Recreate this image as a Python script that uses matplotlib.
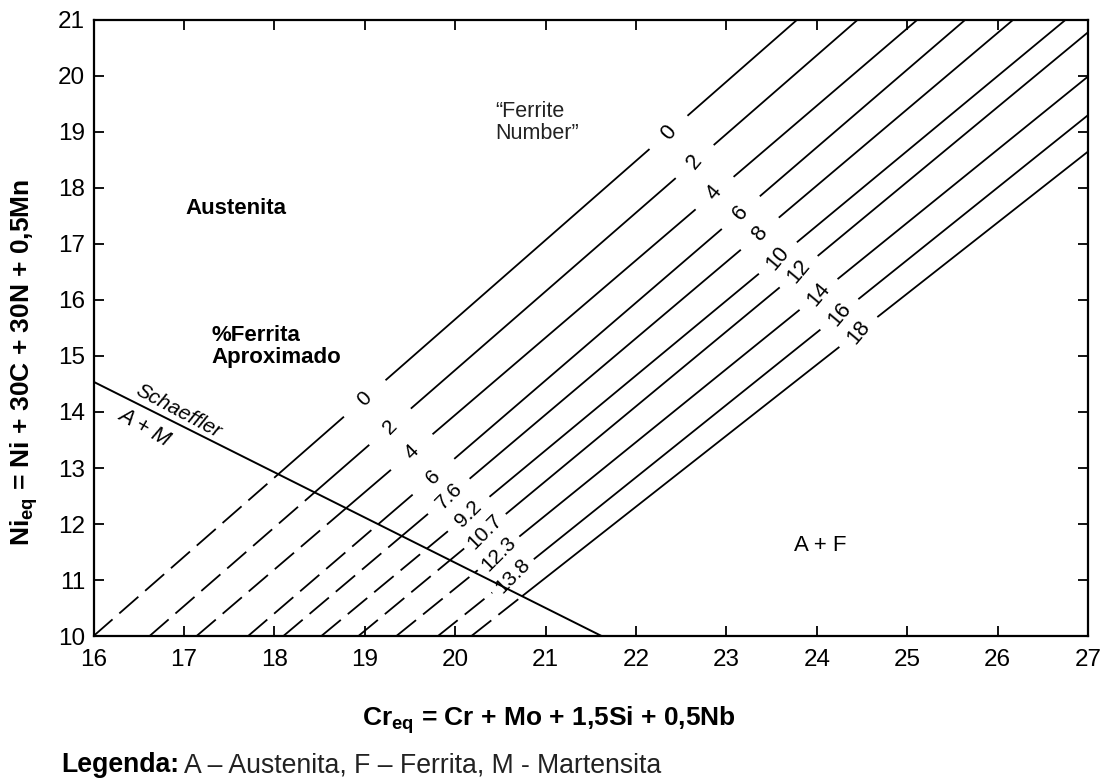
import matplotlib
matplotlib.use('Agg')
import numpy as np
import matplotlib.pyplot as plt

plt.rcParams['font.family'] = ['Liberation Sans', 'DejaVu Sans']
plt.rcParams['mathtext.fontset'] = 'custom'
plt.rcParams['mathtext.rm'] = 'Liberation Sans:bold'
plt.rcParams['mathtext.bf'] = 'Liberation Sans:bold'
plt.rcParams['mathtext.default'] = 'bf'

# iso-ferrite lines: foot on Ni_eq = 10, upper end on the frame
x_foot = [16.00, 16.62, 17.14, 17.71, 18.10, 18.52, 18.93, 19.35, 19.81, 20.18]
x_end = [23.78, 24.45, 25.11, 25.64, 26.17, 26.75, 27.0, 27.0, 27.0, 27.0]
y_end = [21.0, 21.0, 21.0, 21.0, 21.0, 21.0, 20.78, 19.99, 19.30, 18.65]

# "Ferrite Number" labels (upper) and % ferrite labels (lower)
fn_labels = ['0', '2', '4', '6', '8', '10', '12', '14', '16', '18']
fn_label_x = [22.36, 22.65, 22.87, 23.16, 23.37, 23.57, 23.80, 24.02, 24.25, 24.46]
pct_labels = ['0', '2', '4', '6', '7.6', '9.2', '10.7', '12.3', '13.8']
pct_label_x = [19.00, 19.28, 19.52, 19.76, 19.93, 20.15, 20.33, 20.48, 20.64]

# Schaeffler A+M boundary
sch_x = [16.0, 21.62]
sch_y = [14.54, 10.0]

fig = plt.figure(figsize=(11.12, 7.8), dpi=100)
ax = fig.add_axes([0.0841, 0.1846, 0.8943, 0.7898])
ax.set_xlim(16, 27)
ax.set_ylim(10, 21)

m_s = (sch_y[1] - sch_y[0]) / (sch_x[1] - sch_x[0])
ax.plot(sch_x, sch_y, color='k', lw=1.4)

lw = 1.3
dash = (0, (14, 5))
for i in range(len(x_foot)):
    xf = x_foot[i]
    s = (y_end[i] - 10.0) / (x_end[i] - xf)
    # crossing with the Schaeffler line -> dashed below, solid above
    xc = (sch_y[0] - m_s * sch_x[0] - 10.0 + s * xf) / (s - m_s)

    gaps = [(fn_label_x[i] - 0.21, fn_label_x[i] + 0.21)]
    if i < len(pct_labels):
        gaps.append((pct_label_x[i] - 0.23, pct_label_x[i] + 0.23))
    gaps.sort()

    pieces = []
    a = xf
    for g0, g1 in gaps:
        pieces.append((a, g0))
        a = g1
    pieces.append((a, x_end[i]))

    for a, b in pieces:
        if b <= xc:
            parts = [(a, b, dash)]
        elif a >= xc:
            parts = [(a, b, '-')]
        else:
            parts = [(a, xc, dash), (xc, b, '-')]
        for p0, p1, st in parts:
            xx = np.array([p0, p1])
            ax.plot(xx, 10.0 + s * (xx - xf), color='k', lw=lw, ls=st,
                    solid_capstyle='butt', dash_capstyle='butt')

    yl = 10.0 + s * (fn_label_x[i] - xf)
    ax.text(fn_label_x[i], yl, fn_labels[i], rotation=50, ha='center',
            va='center', rotation_mode='anchor', fontsize=15.5)
    if i < len(pct_labels):
        yl = 10.0 + s * (pct_label_x[i] - xf)
        ax.text(pct_label_x[i], yl, pct_labels[i], rotation=45, ha='center',
                va='center', rotation_mode='anchor', fontsize=15)

# region labels
ax.text(17.57, 17.64, 'Austenita', fontsize=16, fontweight='bold',
        ha='center', va='center')
ax.text(17.30, 15.17, '%Ferrita\nAproximado', fontsize=16, fontweight='bold',
        ha='left', va='center', linespacing=1.1)
ax.text(20.44, 19.17, '\u201cFerrite\nNumber\u201d', fontsize=15.5,
        ha='left', va='center', color='#222222', linespacing=1.1)
ax.text(24.04, 11.62, 'A + F', fontsize=16, ha='center', va='center')
ax.text(16.94, 14.01, 'Schaeffler', fontsize=15, style='italic', rotation=-28,
        ha='center', va='center', rotation_mode='anchor')
ax.text(16.56, 13.73, 'A + M', fontsize=15.5, style='italic', rotation=-30,
        ha='center', va='center', rotation_mode='anchor')

ax.set_xticks(range(16, 28))
ax.set_yticks(range(10, 22))
ax.tick_params(direction='in', length=7, width=1.3, top=True, right=True,
               labelsize=17.5)
ax.tick_params(axis='x', pad=9)
ax.tick_params(axis='y', pad=6)
for sp in ax.spines.values():
    sp.set_linewidth(1.6)

fig.text(549 / 1112, 1 - 720 / 780, 'Cr$_{eq}$ = Cr + Mo + 1,5Si + 0,5Nb',
         ha='center', va='center', fontsize=19, fontweight='bold')
fig.text(24 / 1112, 1 - 362 / 780, 'Ni$_{eq}$ = Ni + 30C + 30N + 0,5Mn',
         ha='center', va='center', fontsize=19, fontweight='bold', rotation=90)

leg1 = fig.text(61 / 1112, 1 - 765 / 780, 'Legenda:', ha='left', va='center',
                fontsize=19.2, fontweight='bold')
fig.canvas.draw()
bb = leg1.get_window_extent().transformed(fig.transFigure.inverted())
fig.text(bb.x1 + 0.004, 1 - 765 / 780, 'A \u2013 Austenita, F \u2013 Ferrita, M - Martensita',
         ha='left', va='center', fontsize=19.2, color='#222222')

fig.savefig('out.png', dpi=100)
